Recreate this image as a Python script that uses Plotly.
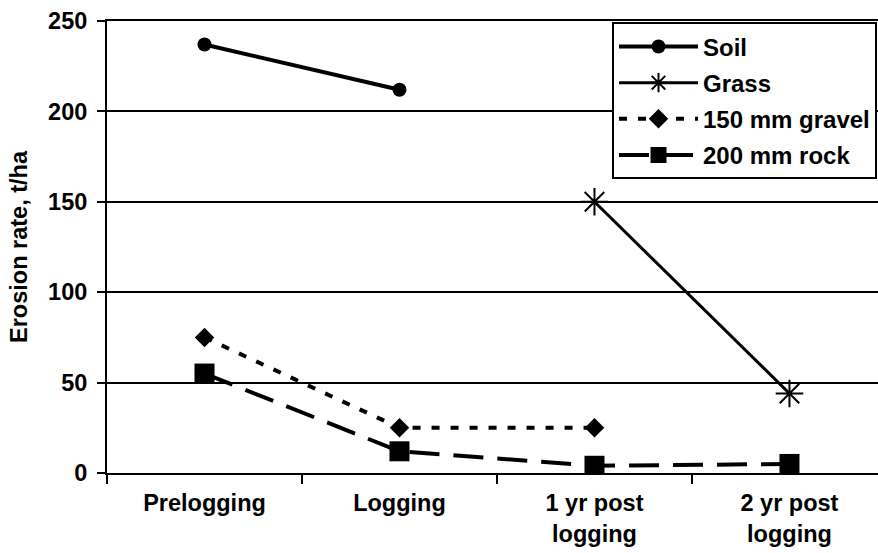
import plotly.graph_objects as go

# Sampling periods on the x axis
periods = ["Prelogging", "Logging", "1 yr post<br>logging", "2 yr post<br>logging"]

# Erosion rate (t/ha) per surface treatment; None = not measured
soil = [237, 212, None, None]
grass = [None, None, 150, 44]
gravel_150mm = [75, 25, 25, None]
rock_200mm = [55, 12, 4, 5]

FONT = "Liberation Sans, Arial, sans-serif"
FS = 23.5

fig = go.Figure()

fig.add_trace(go.Scatter(
    x=periods, y=soil, name="<b>Soil</b>", mode="lines+markers", legendgroup="a",
    line=dict(color="black", width=4),
    marker=dict(symbol="circle", size=14, color="black"),
))
fig.add_trace(go.Scatter(
    x=periods, y=grass, name="<b>Grass</b>", mode="lines+markers", legendgroup="b",
    line=dict(color="black", width=3),
    marker=dict(symbol="asterisk-open", size=23, color="black",
                line=dict(color="black", width=2)),
))
fig.add_trace(go.Scatter(
    x=periods, y=gravel_150mm, name="<b>150 mm gravel</b>", mode="lines+markers",
    legendgroup="c",
    line=dict(color="black", width=4, dash="8px,11px"),
    marker=dict(symbol="diamond", size=15, color="black"),
))
fig.add_trace(go.Scatter(
    x=periods, y=rock_200mm, name="<b>200 mm rock</b>", mode="lines+markers",
    legendgroup="d",
    line=dict(color="black", width=4, dash="30px,14px"),
    marker=dict(symbol="square", size=20, color="black"),
))

fig.update_layout(
    width=878, height=553,
    margin=dict(l=107, r=0, t=21, b=80),
    paper_bgcolor="white", plot_bgcolor="white",
    font=dict(family=FONT, size=FS, color="black"),
    showlegend=True,
    legend=dict(
        x=0.655, y=0.997, xanchor="left", yanchor="top",
        bgcolor="white", bordercolor="black", borderwidth=2,
        font=dict(family=FONT, size=24, color="black"),
        tracegroupgap=2, itemwidth=79,
    ),
    xaxis=dict(
        type="category", range=[-0.5, 3.454],
        showline=True, linecolor="black", linewidth=2, mirror=True,
        showgrid=False, tickson="boundaries",
        ticks="outside", ticklen=9, tickwidth=2, tickcolor="black",
        ticklabelstandoff=8,
        tickfont=dict(family=FONT, size=FS, color="black", weight="bold"),
    ),
    yaxis=dict(
        range=[0, 250], tickvals=[0, 50, 100, 150, 200, 250],
        showline=True, linecolor="black", linewidth=2,
        showgrid=True, gridcolor="black", gridwidth=2, zeroline=False,
        ticks="outside", ticklen=8, tickwidth=2, tickcolor="black",
        ticklabelstandoff=5,
        tickfont=dict(family=FONT, size=FS, color="black", weight="bold"),
        title=dict(text="<b>Erosion rate, t/ha</b>",
                   font=dict(family=FONT, size=FS, color="black"), standoff=14),
    ),
)

fig.write_html("out.html")
